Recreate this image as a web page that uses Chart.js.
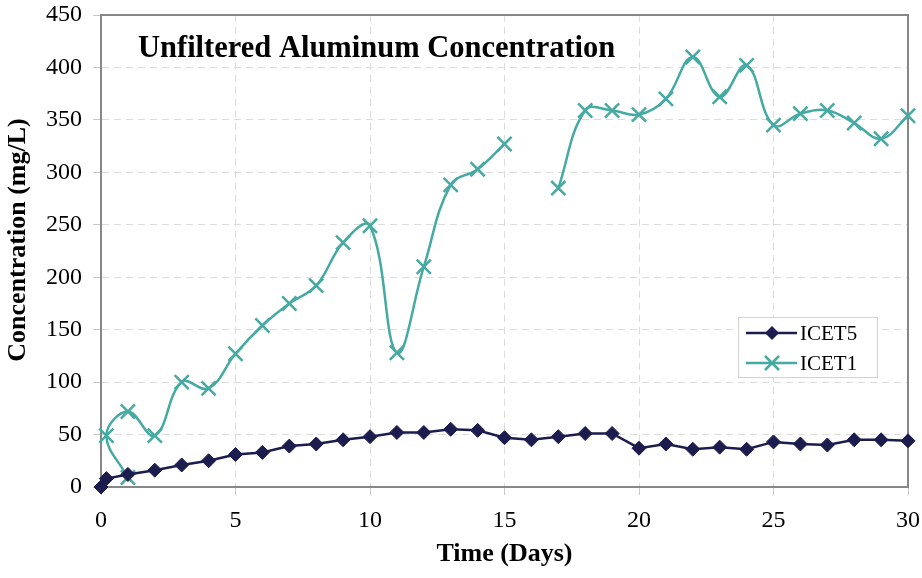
<!DOCTYPE html>
<html>
<head>
<meta charset="utf-8">
<title>Unfiltered Aluminum Concentration</title>
<script src="https://cdn.jsdelivr.net/npm/chart.js@4/dist/chart.umd.min.js"></script>
<style>
  html, body { margin: 0; padding: 0; background: #fff; }
  #wrap { width: 922px; height: 578px; }
</style>
</head>
<body>
<div id="wrap"><canvas id="chart" width="922" height="578"></canvas></div>
<script>
// ICET5 (days, mg/L)
const icet5Days = [0, 0.2, 1, 2, 3, 4, 5, 6, 7, 8, 9, 10, 11, 12, 13, 14, 15, 16, 17, 18, 19, 20, 21, 22, 23, 24, 25, 26, 27, 28, 29, 30];
const icet5Values = [0, 8, 12, 16, 21, 25, 31, 33, 39, 41, 45, 48, 52, 52, 55, 54, 47, 45, 48, 51, 51, 37, 41, 36, 38, 36, 43, 41, 40, 45, 45, 44];

// ICET1 - first sample logged before the day 0.2 one, day 16 missing
const icet1Days = [1, 0.2, 1, 2, 3, 4, 5, 6, 7, 8, 9, 10, 11, 12, 13, 14, 15, 16, 17, 18, 19, 20, 21, 22, 23, 24, 25, 26, 27, 28, 29, 30];
const icet1Values = [9, 49, 72, 49, 100, 94, 127, 154, 175, 192, 233, 249, 128, 210, 288, 303, 327, null, 285, 359, 359, 355, 370, 410, 372, 402, 345, 356, 359, 347, 332, 354];

const xTicks = [0, 5, 10, 15, 20, 25, 30];
const yTicks = [0, 50, 100, 150, 200, 250, 300, 350, 400, 450];

const NAVY = '#1c1c4e';
const TEAL = '#45aaa2';
const SERIF = '"Liberation Serif", "Times New Roman", serif';

function toPoints(days, values) {
  return days.map((d, i) => ({ x: d, y: values[i] }));
}

// frame, in-plot title, y axis title and legend
const decorations = {
  id: 'decorations',
  beforeDatasetsDraw(chart) {
    const { ctx, chartArea: a } = chart;
    ctx.save();
    ctx.strokeStyle = '#878787';
    ctx.lineWidth = 2;
    ctx.strokeRect(a.left, a.top, a.right - a.left, a.bottom - a.top);
    ctx.restore();
  },
  afterDraw(chart) {
    const ctx = chart.ctx;
    ctx.save();
    ctx.fillStyle = '#000';
    ctx.font = 'bold 30.5px ' + SERIF;
    ctx.textBaseline = 'alphabetic';
    ctx.fillText('Unfiltered Aluminum Concentration', 138, 57);

    ctx.save();
    ctx.translate(18, 240);
    ctx.rotate(-Math.PI / 2);
    ctx.font = 'bold 26px ' + SERIF;
    ctx.textAlign = 'center';
    ctx.textBaseline = 'middle';
    ctx.fillText('Concentration (mg/L)', 0, 0);
    ctx.restore();

    // legend box
    ctx.fillStyle = '#fff';
    ctx.fillRect(738, 317, 139, 60);
    ctx.strokeStyle = '#d2d2d2';
    ctx.lineWidth = 1;
    ctx.strokeRect(738.5, 317.5, 139, 60);

    const rows = [
      { label: 'ICET5', color: NAVY, y: 333, mark: 'diamond' },
      { label: 'ICET1', color: TEAL, y: 363, mark: 'cross' }
    ];
    rows.forEach(r => {
      ctx.strokeStyle = r.color;
      ctx.fillStyle = r.color;
      ctx.lineWidth = 2.5;
      ctx.beginPath();
      ctx.moveTo(746, r.y);
      ctx.lineTo(797, r.y);
      ctx.stroke();
      const cx = 772;
      if (r.mark === 'diamond') {
        ctx.beginPath();
        ctx.moveTo(cx - 7, r.y);
        ctx.lineTo(cx, r.y - 7);
        ctx.lineTo(cx + 7, r.y);
        ctx.lineTo(cx, r.y + 7);
        ctx.closePath();
        ctx.fill();
      } else {
        ctx.beginPath();
        ctx.moveTo(cx - 7, r.y - 7);
        ctx.lineTo(cx + 7, r.y + 7);
        ctx.moveTo(cx + 7, r.y - 7);
        ctx.lineTo(cx - 7, r.y + 7);
        ctx.stroke();
      }
      ctx.fillStyle = '#000';
      ctx.font = '21px ' + SERIF;
      ctx.textBaseline = 'middle';
      ctx.fillText(r.label, 800, r.y + 1);
    });
    ctx.restore();
  }
};

new Chart(document.getElementById('chart'), {
  type: 'line',
  data: {
    datasets: [
      {
        label: 'ICET5',
        data: toPoints(icet5Days, icet5Values),
        borderColor: NAVY,
        backgroundColor: NAVY,
        borderWidth: 2.5,
        tension: 0,
        clip: false,
        pointStyle: 'rectRot',
        pointRadius: 7,
        pointBorderWidth: 1,
        pointBackgroundColor: NAVY,
        pointBorderColor: NAVY
      },
      {
        label: 'ICET1',
        data: toPoints(icet1Days, icet1Values),
        borderColor: TEAL,
        backgroundColor: TEAL,
        borderWidth: 2.5,
        tension: 0.4,
        spanGaps: false,
        clip: false,
        pointStyle: 'crossRot',
        pointRadius: 10,
        pointBorderWidth: 2.5,
        pointBorderColor: TEAL
      }
    ]
  },
  options: {
    responsive: false,
    animation: false,
    layout: { padding: { top: 15, right: 14, left: 0, bottom: 0 } },
    plugins: {
      legend: { display: false },
      tooltip: { enabled: false }
    },
    scales: {
      x: {
        type: 'linear',
        min: 0,
        max: 30,
        afterBuildTicks: s => { s.ticks = xTicks.map(v => ({ value: v })); },
        afterFit: s => {
          s.height = 91;
          s.paddingLeft = 0;
          s.paddingRight = 0;
        },
        grid: { color: '#dcdcdc', lineWidth: 1, tickLength: 8, tickColor: '#c8c8c8' },
        border: { color: '#878787', width: 2, dash: [7, 5] },
        ticks: { color: '#000', font: { family: SERIF, size: 24 }, padding: 11 },
        title: {
          display: true,
          text: 'Time (Days)',
          color: '#000',
          font: { family: SERIF, size: 26, weight: 'bold' },
          padding: { top: 0, bottom: 8 }
        }
      },
      y: {
        min: 0,
        max: 450,
        afterBuildTicks: s => { s.ticks = yTicks.map(v => ({ value: v })); },
        afterFit: s => {
          s.width = 101;
          s.paddingTop = 0;
          s.paddingBottom = 0;
        },
        grid: { color: '#dcdcdc', lineWidth: 1, tickLength: 8, tickColor: '#c8c8c8' },
        border: { color: '#878787', width: 2, dash: [7, 5] },
        ticks: { color: '#000', font: { family: SERIF, size: 24 }, padding: 11 }
      }
    }
  },
  plugins: [decorations]
});
</script>
</body>
</html>
